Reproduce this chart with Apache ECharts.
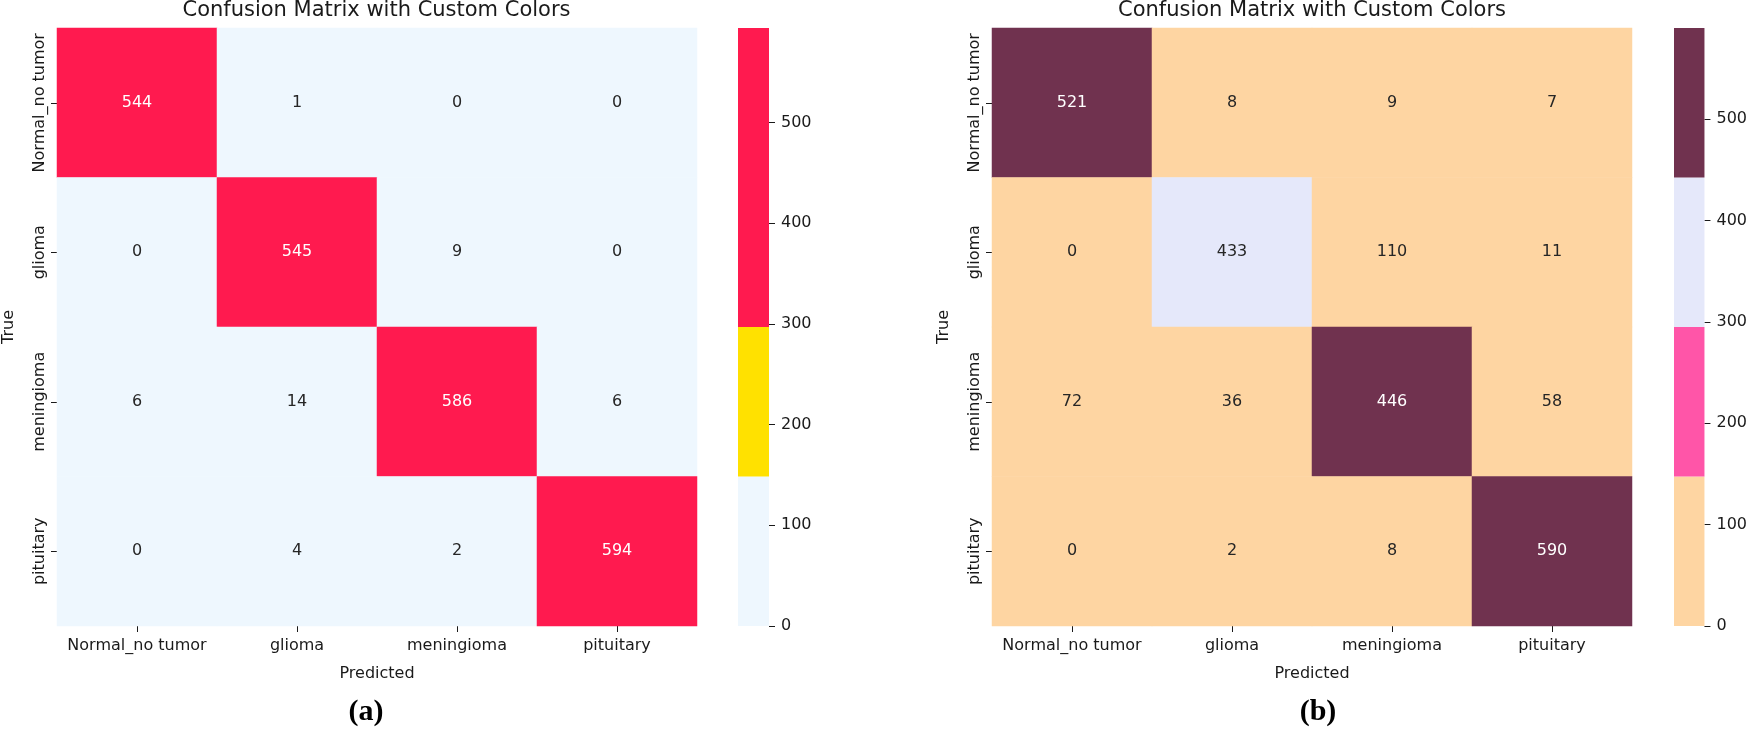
<!DOCTYPE html>
<html><head><meta charset="utf-8">
<script src="https://cdn.jsdelivr.net/npm/echarts@6/dist/echarts.min.js"></script>
<style>html,body{margin:0;padding:0;background:#fff}#c{width:1750px;height:730px}</style>
</head><body><div id="c"></div>
<script>
// ---- data ----
const categories = ['Normal_no tumor', 'glioma', 'meningioma', 'pituitary'];
const matrixA = [[544, 1, 0, 0], [0, 545, 9, 0], [6, 14, 586, 6], [0, 4, 2, 594]];
const matrixB = [[521, 8, 9, 7], [0, 433, 110, 11], [72, 36, 446, 58], [0, 2, 8, 590]];
const colorsA = ['#EEF7FE', '#FFE100', '#FF1A4F', '#FF1A4F'];
const colorsB = ['#FED5A2', '#FF55A8', '#E5E8FA', '#70324F'];
const colorbarTicks = [0, 100, 200, 300, 400, 500];
const titleText = 'Confusion Matrix with Custom Colors';
const xName = 'Predicted';
const yName = 'True';
const panelLabels = ['(a)', '(b)'];

// ---- layout ----
const FONT = 'DejaVu Sans';
const TXT = '#1a1a1a';
const panels = [
  { left: 56, width: 641, cbLeft: 738, matrix: matrixA, colors: colorsA, label: panelLabels[0], labelX: 366 },
  { left: 992, width: 640, cbLeft: 1674, matrix: matrixB, colors: colorsB, label: panelLabels[1], labelX: 1318 }
];
const TOP = 28, HEIGHT = 598, CBW = 31;

function lum(hex) {
  const h = hex.replace('#', '');
  const ch = [0, 2, 4].map(i => {
    let c = parseInt(h.substr(i, 2), 16) / 255;
    return c <= 0.03928 ? c / 12.92 : Math.pow((c + 0.055) / 1.055, 2.4);
  });
  return 0.2126 * ch[0] + 0.7152 * ch[1] + 0.0722 * ch[2];
}

const option = { animation: false, backgroundColor: '#fff', title: [], grid: [], xAxis: [], yAxis: [], series: [], visualMap: [] };

panels.forEach((p, i) => {
  const flat = p.matrix.flat();
  const vmax = Math.max(...flat);
  const n = p.colors.length;
  const step = vmax / n;
  const binColor = v => p.colors[Math.min(n - 1, Math.floor(v / step))];
  const data = [];
  p.matrix.forEach((row, r) => row.forEach((v, c) => {
    data.push({ value: [c, r, v], label: { color: lum(binColor(v)) < 0.408 ? '#ffffff' : '#262626' } });
  }));
  const gH = i * 2, gC = i * 2 + 1;
  const cx = p.left + p.width / 2;

  option.title.push({ text: titleText, left: cx, top: 0, padding: 0, textAlign: 'center',
    textStyle: { fontSize: 21, fontWeight: 'normal', fontFamily: FONT, color: TXT } });
  option.title.push({ text: p.label, left: p.labelX, top: 697, padding: 0, textAlign: 'center',
    textStyle: { fontSize: 30, fontWeight: 'bold', fontFamily: 'Liberation Serif', color: '#000' } });

  option.grid.push({ left: p.left, top: TOP, width: p.width, height: HEIGHT });
  option.grid.push({ left: p.cbLeft, top: TOP, width: CBW, height: HEIGHT });

  option.xAxis.push({
    type: 'category', gridIndex: gH, data: categories, position: 'bottom',
    name: xName, nameLocation: 'middle', nameGap: 40,
    nameTextStyle: { fontSize: 16, fontFamily: FONT, color: TXT },
    axisLine: { show: false }, splitLine: { show: false },
    axisTick: { show: true, alignWithLabel: true, length: 6, lineStyle: { color: TXT, width: 1 } },
    axisLabel: { interval: 0, margin: 12, fontSize: 16, fontFamily: FONT, color: TXT }
  });
  option.yAxis.push({
    type: 'category', gridIndex: gH, data: categories, inverse: true,
    name: yName, nameLocation: 'middle', nameGap: 40, nameRotate: 90,
    nameTextStyle: { fontSize: 16, fontFamily: FONT, color: TXT },
    axisLine: { show: false }, splitLine: { show: false },
    axisTick: { show: true, alignWithLabel: true, length: 6, lineStyle: { color: TXT, width: 1 } },
    axisLabel: { interval: 0, rotate: 90, margin: 9, fontSize: 16, fontFamily: FONT, color: TXT }
  });
  option.xAxis.push({ type: 'category', gridIndex: gC, data: ['cb'], show: false });
  option.yAxis.push({
    type: 'value', gridIndex: gC, min: 0, max: vmax, position: 'right',
    axisLine: { show: false }, splitLine: { show: false },
    axisTick: { show: true, length: 6, customValues: colorbarTicks, lineStyle: { color: TXT, width: 1 } },
    axisLabel: { margin: 12, fontSize: 16, fontFamily: FONT, color: TXT, customValues: colorbarTicks }
  });

  const pieces = p.colors.map((c, k) => k === n - 1 ? { gte: k * step, lte: vmax, color: c } : { gte: k * step, lt: (k + 1) * step, color: c });
  option.visualMap.push({ type: 'piecewise', show: false, seriesIndex: option.series.length, dimension: 2, pieces: pieces });

  option.series.push({
    type: 'heatmap', xAxisIndex: gH, yAxisIndex: gH, data: data,
    itemStyle: { borderWidth: 0 },
    label: { show: true, fontSize: 16, fontFamily: FONT },
    emphasis: { disabled: true }, silent: true
  });
  // colorbar: merge consecutive bins of identical colour into one segment
  const segs = [];
  p.colors.forEach(c => {
    if (segs.length && segs[segs.length - 1].color === c) segs[segs.length - 1].size += step;
    else segs.push({ color: c, size: step });
  });
  segs.forEach(s => {
    option.series.push({
      type: 'bar', xAxisIndex: gC, yAxisIndex: gC, stack: 'cb' + i, data: [s.size],
      barWidth: '100%', itemStyle: { color: s.color }, silent: true
    });
  });
});

const chart = echarts.init(document.getElementById('c'));
chart.setOption(option);
</script></body></html>
